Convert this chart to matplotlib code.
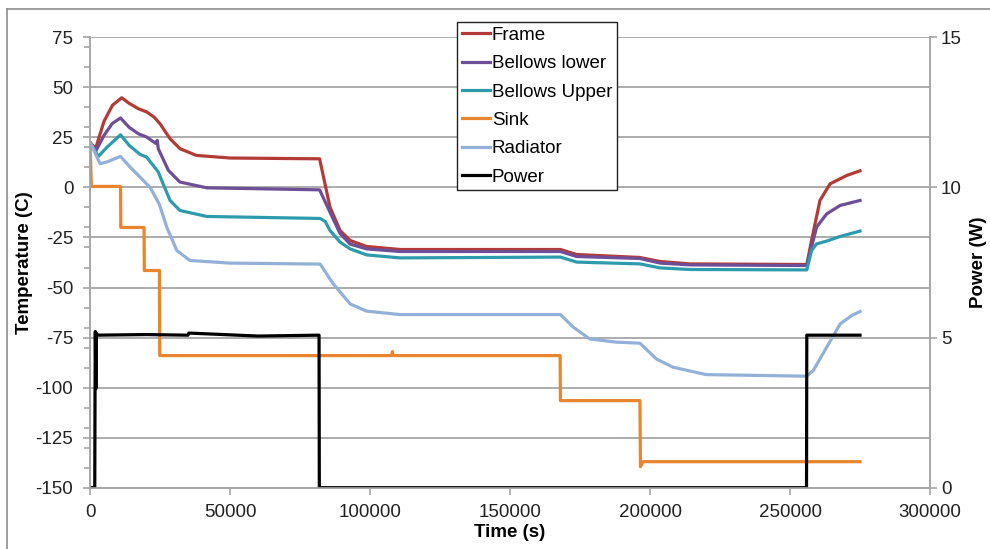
import matplotlib
matplotlib.use('Agg')
import matplotlib.pyplot as plt
from matplotlib.ticker import MultipleLocator
from matplotlib.lines import Line2D

plt.rcParams['font.family'] = ['Liberation Sans', 'DejaVu Sans']
plt.rcParams['axes.unicode_minus'] = False

# time (s) / temperature (C) pairs
frame_t = [0, 2000, 5000, 8000, 11300, 14000, 17300, 20300, 23000, 25000, 28600, 32200, 38000, 50000,
           82000, 85700, 89300, 92900, 98800, 110700, 168000, 173800, 196400, 203600, 214300, 256000,
           257700, 260700, 264300, 270300, 275000]
frame_T = [22.5, 19.5, 33, 41, 44.8, 42, 39.3, 37.7, 35, 31.8, 24.3, 19.3, 16, 14.7,
           14.3, -9.8, -21.5, -26.5, -29.5, -31, -31, -33.5, -35, -37, -38.2, -38.5,
           -26.5, -6.5, 1.8, 6, 8.3]

lower_t = [0, 2000, 5000, 8000, 10900, 14000, 17300, 20200, 23500, 24000, 24400, 28000, 32100, 41700,
           82000, 85700, 89300, 92900, 98800, 110700, 168000, 173800, 196400, 203600, 214300, 256000,
           257700, 259500, 263100, 267900, 275000]
lower_T = [22.5, 18, 26, 32, 34.7, 30, 26.8, 25.2, 22, 23.5, 19.3, 8.5, 2.7, -0.2,
           -1.2, -12.3, -23, -28.3, -30.7, -32, -32, -34.5, -35.5, -37.8, -38.7, -39,
           -29.8, -19.8, -13.2, -9, -6.5]

upper_t = [0, 3000, 6000, 10900, 14000, 17900, 20200, 24400, 25600, 28600, 32100, 41700,
           82200, 84000, 85700, 89300, 92900, 98800, 110700, 168000, 173800, 196400, 203600, 214300, 256000,
           257700, 259500, 263100, 267900, 275000]
upper_T = [22.5, 15.5, 20, 26.3, 21, 16.5, 15.2, 7.7, 3.5, -6.5, -11.5, -14.5,
           -15.5, -17, -21.5, -27.3, -30.7, -33.7, -35.2, -34.8, -37.3, -38.2, -40.2, -41, -41.2,
           -31.5, -28.2, -26.8, -24.5, -21.8]

sink_t = [0, 500, 10900, 11000, 19300, 19400, 24800, 24900, 107800, 108000, 108200, 167900, 168000,
          196400, 196600, 197500, 275000]
sink_T = [22, 0.5, 0.5, -20, -20, -41.5, -41.5, -84, -84, -82, -84, -84, -106.5,
          -106.5, -139.5, -137, -137]

rad_t = [0, 3600, 6000, 10900, 14300, 18000, 20200, 21400, 24800, 27400, 31000, 35700, 50000,
         82200, 86900, 92900, 98800, 110700, 168000, 172600, 178500, 188000, 196400, 202300, 208200,
         220000, 255900, 258300, 263100, 267900, 272000, 275000]
rad_T = [22.7, 11.8, 12.7, 15.5, 10.2, 5, 1.8, 0.2, -8.5, -19.8, -31.5, -36.5, -37.8,
         -38.3, -48.2, -58.2, -61.8, -63.5, -63.5, -69.8, -75.7, -77.3, -77.8, -85.7, -89.8,
         -93.5, -94.3, -91.5, -79.8, -68.2, -64, -62]

# power (W) on the right axis
power_t = [0, 1700, 1800, 1900, 2100, 2300, 2600, 20000, 35000, 35300, 60000, 81800, 81900,
           255900, 256000, 275000]
power_W = [0, 0, 3.25, 5.2, 3.3, 5.15, 5.08, 5.1, 5.08, 5.15, 5.05, 5.08, 0,
           0, 5.08, 5.08]

names = ['Frame', 'Bellows lower', 'Bellows Upper', 'Sink', 'Radiator', 'Power']
colors = ['#B23B37', '#6E4E97', '#2E9BAC', '#E8852E', '#93B1D8', '#000000']

fig = plt.figure(figsize=(9.9, 5.49), dpi=100)
ax = fig.add_axes([90/990, 1-487.7/549, 840/990, 450.4/549])
ax2 = ax.twinx()

lw = 2.3
ax.plot(frame_t, frame_T, color=colors[0], lw=lw)
ax.plot(lower_t, lower_T, color=colors[1], lw=lw)
ax.plot(upper_t, upper_T, color=colors[2], lw=lw)
ax.plot(sink_t, sink_T, color=colors[3], lw=lw)
ax.plot(rad_t, rad_T, color=colors[4], lw=lw)
ax2.plot(power_t, power_W, color=colors[5], lw=lw)

gc = '#A6A6A6'
fs = 13.5
ax.set_xlim(0, 300000)
ax.set_ylim(-150, 75)
ax2.set_ylim(0, 15)
ax.yaxis.set_major_locator(MultipleLocator(25))
ax.yaxis.set_minor_locator(MultipleLocator(10))
ax.xaxis.set_major_locator(MultipleLocator(50000))
ax2.yaxis.set_major_locator(MultipleLocator(5))
ax.grid(axis='y', which='major', color=gc, lw=1.3)
ax.set_axisbelow(True)

for a in (ax, ax2):
    for s in a.spines.values():
        s.set_color(gc)
        s.set_linewidth(1.2)
    a.spines['top'].set_visible(False)
    a.tick_params(which='both', direction='out', color=gc, width=1.2, labelsize=fs, labelcolor='#222222')
    a.tick_params(which='major', length=5)
    a.tick_params(which='minor', length=4)
ax.tick_params(axis='y', pad=7)
ax.tick_params(axis='x', pad=7)
ax2.tick_params(axis='y', pad=3)

ax.set_xlabel('Time (s)', fontsize=fs, fontweight='bold', labelpad=2)
ax.set_ylabel('Temperature (C)', fontsize=fs, fontweight='bold')
ax2.set_ylabel('Power (W)', fontsize=fs, fontweight='bold')
ax.yaxis.set_label_coords(-0.068, 0.5)
ax2.yaxis.set_label_coords(1.048, 0.5)

handles = [Line2D([], [], color=c, lw=lw) for c in colors]
leg = fig.legend(handles, names, loc='upper left', bbox_to_anchor=(457/990, 1-22/549),
                 bbox_transform=fig.transFigure, fontsize=fs, frameon=True, fancybox=False,
                 edgecolor='#222222', framealpha=1, handlelength=1.5, handletextpad=0.1,
                 labelspacing=0.6, borderpad=0.25, borderaxespad=0)
leg.get_frame().set_linewidth(1.0)

# outer chart border
fig.add_artist(Line2D([7/990, 7/990], [0, 1-9/549], transform=fig.transFigure, color='#8C8C8C', lw=1.2))
fig.add_artist(Line2D([7/990, 1], [1-9/549, 1-9/549], transform=fig.transFigure, color='#8C8C8C', lw=1.2))

fig.savefig('out.png', dpi=100)
